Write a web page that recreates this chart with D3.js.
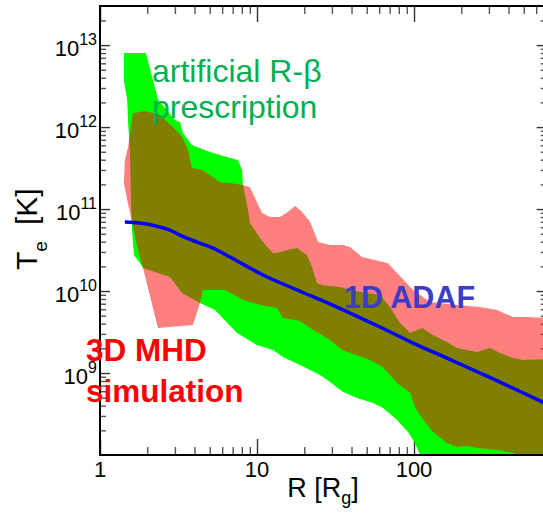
<!DOCTYPE html>
<html><head><meta charset="utf-8">
<script src="https://cdn.jsdelivr.net/npm/d3@7"></script>
<style>html,body{margin:0;padding:0;background:#fff;overflow:hidden;} svg{display:block;font-family:"Liberation Sans",Arial,Helvetica,sans-serif;}</style>
</head><body>
<svg id="chart" width="543" height="514"></svg>
<script>
// ---- data (R in R_g, T_e in K) ----
const greenUpperR = [1.42, 1.96, 2.34, 3.0, 3.23, 3.38, 3.85, 5.02, 6.44, 7.57, 8.03, 8.14, 8.77, 9.02, 10.15, 10.92, 12.65, 14.0, 15.7, 18.0, 20.8, 22.4, 24.1, 26.3, 33.8, 42, 60.7, 70.3, 81.5, 94.4, 112.5, 132, 162, 188, 252, 305, 353, 427, 494, 700];
const greenUpperT = [8.0e12, 8.0e12, 2.19e12, 1.22e12, 1.15e12, 8.45e11, 6.03e11, 4.96e11, 4.31e11, 3.96e11, 2.99e11, 1.96e11, 9.72e10, 6.75e10, 4.82e10, 3.96e10, 2.90e10, 2.99e10, 3.16e10, 3.34e10, 2.75e10, 1.96e10, 1.25e10, 1.18e10, 1.12e10, 1.0e10, 8.94e9, 6.38e9, 4.07e9, 3.08e9, 3.54e9, 2.90e9, 2.39e9, 2.02e9, 1.80e9, 2.02e9, 1.75e9, 1.52e9, 1.44e9, 1.48e9];
const greenLowerR = [1.42, 1.49, 1.51, 1.55, 1.576, 1.60, 1.647, 1.80, 1.88, 2.79, 3.33, 4.33, 5.40, 7.46, 10.0, 12.65, 14.6, 18.8, 25.2, 29.2, 35.3, 43.4, 54.8, 63.5, 78.0, 91.6, 101.4, 109.2, 125, 700];
const greenLowerT = [3.74e12, 2.13e12, 1.12e12, 5.24e11, 1.29e11, 5.54e10, 2.75e10, 2.19e10, 1.91e10, 1.48e10, 9.46e9, 7.14e9, 5.86e9, 3.08e9, 2.19e9, 1.91e9, 1.57e9, 1.25e9, 9.46e8, 7.77e8, 5.86e8, 4.96e8, 4.31e8, 3.74e8, 2.67e8, 1.91e8, 1.40e8, 1.0e8, 6e7, 1e7];

const redUpperR = [1.42, 1.44, 1.51, 1.62, 1.94, 2.41, 2.92, 3.33, 3.64, 3.85, 4.46, 5.02, 5.81, 6.73, 8.14, 9.02, 9.71, 10.76, 12.1, 14.0, 15.7, 17.5, 19.4, 21.8, 24.5, 29.2, 35.3, 39.1, 46.7, 68.3, 78.0, 98.6, 126.5, 188, 263, 338, 427, 525, 700];
const redUpperT = [2.08e11, 3.96e11, 5.70e11, 1.48e12, 1.57e12, 1.40e12, 1.0e12, 7.55e11, 5.24e11, 3.16e11, 2.99e11, 2.60e11, 2.13e11, 2.08e11, 1.96e11, 1.85e11, 1.36e11, 8.93e10, 7.98e10, 7.98e10, 9.19e10, 1.09e11, 9.19e10, 6.93e10, 3.96e10, 3.64e10, 3.64e10, 3.44e10, 2.60e10, 2.19e10, 1.66e10, 1.03e10, 7.34e9, 6.75e9, 6.38e9, 5.86e9, 4.82e9, 4.82e9, 4.69e9];
const redLowerR = [1.49, 1.55, 1.746, 1.88, 2.34, 3.91, 4.33, 4.53, 6.25, 8.14, 10.45, 13.4, 14.6, 18.8, 21.8, 29.2, 34.8, 52.4, 63.5, 78.0, 94.4, 101.4, 112.5, 132, 162, 188, 218, 252, 338, 427, 473, 700];
const redLowerT = [1.29e11, 9.19e10, 3.16e10, 1.91e10, 3.54e9, 3.85e9, 7.14e9, 1.03e10, 1.03e10, 7.76e9, 6.75e9, 6.21e9, 4.69e9, 4.3e9, 3.54e9, 2.53e9, 1.91e9, 1.44e9, 1.18e9, 7.55e8, 5.70e8, 3.85e8, 2.83e8, 1.91e8, 1.40e8, 1.25e8, 1.29e8, 1.22e8, 1.15e8, 1.06e8, 1.0e8, 7e7];

const adafR = [1.44, 1.80, 2.41, 2.79, 3.23, 4.15, 5.25, 6.73, 10.92, 18.0, 32.3, 60.7, 98.6, 162, 263, 453, 700];
const adafT = [6.93e10, 6.75e10, 6.03e10, 5.54e10, 4.82e10, 3.96e10, 3.34e10, 2.60e10, 1.57e10, 1.03e10, 6.38e9, 3.64e9, 2.32e9, 1.52e9, 1.0e9, 6.21e8, 4.19e8];

const xMajor = [1, 10, 100];
const xMinor = [2,3,4,5,6,7,8,9,20,30,40,50,60,70,80,90,200,300,400,500,600];
const xLabels = ["1", "10", "100"];
const yMajor = [1e9, 1e10, 1e11, 1e12, 1e13];
const yExp = ["9", "10", "11", "12", "13"];
const yMinor = [];
[1e8,1e9,1e10,1e11,1e12,1e13].forEach(d => { for (let k = 2; k <= 9; k++) if (k*d < 3e13) yMinor.push(k*d); });

// ---- layout ----
const svg = d3.select("#chart");
const L = 100, B = 455, T = 6, Rgt = 546.7;
const x = d3.scaleLog().domain([1, 700]).range([L, Rgt]);
const y = d3.scaleLog().domain([1e8, 3e13]).range([B, T]);

svg.append("defs").append("clipPath").attr("id", "clip")
  .append("rect").attr("x", L).attr("y", T).attr("width", Rgt - L).attr("height", B - T);

// ticks (inward)
function ticks(axis, tr, vals, size, color) {
  const g = svg.append("g").attr("transform", tr)
    .call(axis.tickValues(vals).tickSize(size).tickSizeOuter(0).tickFormat(""));
  g.select(".domain").remove();
  g.selectAll(".tick line").attr("stroke", color).attr("stroke-width", 1.4);
}
ticks(d3.axisBottom(x), `translate(0,${B})`, xMajor, -16, "#333");
ticks(d3.axisBottom(x), `translate(0,${B})`, xMinor, -8, "#555");
ticks(d3.axisTop(x), `translate(0,${T})`, xMajor, -16, "#333");
ticks(d3.axisTop(x), `translate(0,${T})`, xMinor, -8, "#555");
ticks(d3.axisLeft(y), `translate(${L},0)`, yMajor, -10, "#333");
ticks(d3.axisLeft(y), `translate(${L},0)`, yMinor, -6, "#555");
ticks(d3.axisRight(y), `translate(${Rgt},0)`, yMajor, -10, "#333");
ticks(d3.axisRight(y), `translate(${Rgt},0)`, yMinor, -6, "#555");

// bands
function band(uR, uT, lR, lT) {
  const pts = uR.map((r, i) => [x(r), y(uT[i])]);
  for (let i = lR.length - 1; i >= 0; i--) pts.push([x(lR[i]), y(lT[i])]);
  return d3.line()(pts) + "Z";
}
const plot = svg.append("g").attr("clip-path", "url(#clip)");
plot.append("path").attr("d", band(greenUpperR, greenUpperT, greenLowerR, greenLowerT))
  .attr("fill", "#00ff00");
plot.append("path").attr("d", band(redUpperR, redUpperT, redLowerR, redLowerT))
  .attr("fill", "#ff0000").attr("fill-opacity", 0.5);
plot.append("path")
  .attr("d", d3.line().x((d, i) => x(adafR[i])).y((d, i) => y(adafT[i])).curve(d3.curveMonotoneX)(adafR))
  .attr("fill", "none").attr("stroke", "#0000ff").attr("stroke-width", 3.5);

// frame
svg.append("rect").attr("x", L).attr("y", T).attr("width", Rgt - L).attr("height", B - T)
  .attr("fill", "none").attr("stroke", "#000").attr("stroke-width", 2);

// tick labels
svg.append("g").selectAll("text").data(xMajor).join("text")
  .attr("x", d => x(d)).attr("y", 477).attr("text-anchor", "middle")
  .attr("font-size", 22).attr("fill", "#000").text((d, i) => xLabels[i]);

const yl = svg.append("g").selectAll("text").data(yMajor).join("text")
  .attr("x", 97).attr("y", d => y(d) + 10.5).attr("text-anchor", "end")
  .attr("font-size", 22).attr("fill", "#000");
yl.append("tspan").text("10");
yl.append("tspan").attr("dy", -11).attr("font-size", 16).text((d, i) => yExp[i]);

// axis titles
const xt = svg.append("text").attr("x", 323).attr("y", 497).attr("text-anchor", "middle")
  .attr("font-size", 27).attr("fill", "#000");
xt.append("tspan").text("R [R");
xt.append("tspan").attr("dy", 7).attr("font-size", 18).text("g");
xt.append("tspan").attr("dy", -7).text("]");

const yt = svg.append("text").attr("transform", "translate(37,270) rotate(-90)")
  .attr("font-size", 30).attr("fill", "#000");
yt.append("tspan").text("T");
yt.append("tspan").attr("dy", 10).attr("font-size", 19).text("e");
yt.append("tspan").attr("dy", -10).attr("dx", 16).text("[K]");

// annotations
const ann = svg.append("g");
ann.append("text").attr("x", 152).attr("y", 82).attr("font-size", 32).attr("fill", "#00b050").text("artificial R-β");
ann.append("text").attr("x", 152).attr("y", 118).attr("font-size", 32).attr("fill", "#00b050").text("prescription");
ann.append("text").attr("x", 344).attr("y", 308).attr("font-size", 30.5).attr("font-weight", "bold").attr("fill", "#3c3cc8").text("1D ADAF");
ann.append("text").attr("x", 86).attr("y", 361).attr("font-size", 31.5).attr("font-weight", "bold").attr("fill", "#ff0000").text("3D MHD");
ann.append("text").attr("x", 86).attr("y", 402).attr("font-size", 31.5).attr("font-weight", "bold").attr("fill", "#ff0000").text("simulation");
</script>
</body></html>
